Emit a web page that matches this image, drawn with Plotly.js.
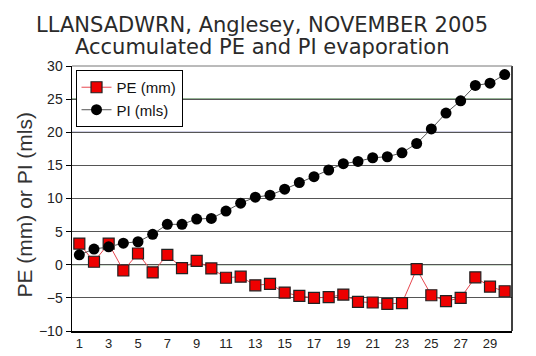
<!DOCTYPE html>
<html><head><meta charset="utf-8">
<script src="https://cdn.plot.ly/plotly-3.0.1.min.js"></script>
<style>html,body{margin:0;padding:0;background:#fff}#chart{width:536px;height:356px}</style>
</head><body><div id="chart"></div>
<script>
const days = [1,2,3,4,5,6,7,8,9,10,11,12,13,14,15,16,17,18,19,20,21,22,23,24,25,26,27,28,29,30];
const peValues = [3.2,0.45,3.2,-0.87,1.7,-1.16,1.5,-0.5,0.6,-0.56,-1.96,-1.8,-3.1,-2.9,-4.2,-4.7,-5.0,-4.9,-4.5,-5.6,-5.7,-5.9,-5.8,-0.66,-4.6,-5.5,-5.0,-1.9,-3.3,-4.0];
const piValues = [1.5,2.36,2.7,3.26,3.47,4.6,6.1,6.1,6.9,7.0,8.1,9.3,10.2,10.5,11.4,12.4,13.3,14.3,15.25,15.6,16.15,16.3,16.9,18.3,20.5,22.9,24.75,27.06,27.4,28.7];
const xTicks = [1,3,5,7,9,11,13,15,17,19,21,23,25,27,29];
const yTicks = [-10,-5,0,5,10,15,20,25,30];
const seriesNames = ['PE (mm)','PI (mls)'];
const titleLines = ['LLANSADWRN, Anglesey, NOVEMBER 2005','Accumulated PE and PI evaporation'];
const yTitle = 'PE (mm) or PI (mls)';

const traces = [
  {x: days, y: peValues, name: seriesNames[0], type: 'scatter', mode: 'lines+markers',
   line: {color: '#e8474f', width: 1},
   marker: {symbol: 'square', size: 11, color: '#ee0000', line: {color: '#222', width: 1.2}}},
  {x: days, y: piValues, name: seriesNames[1], type: 'scatter', mode: 'lines+markers',
   line: {color: '#555', width: 1},
   marker: {symbol: 'circle', size: 11, color: '#000', line: {color: '#000', width: 0}}}
];
const gl = (y, c) => ({type: 'line', xref: 'paper', x0: 0, x1: 1, yref: 'y', y0: y, y1: y, line: {color: c, width: 1.2}, layer: 'below'});
const titleFont = {family: 'DejaVu Sans', size: 21, color: '#2a2a2a'};
const layout = {
  width: 536, height: 356,
  margin: {l: 72, r: 24, t: 66, b: 25},
  paper_bgcolor: '#fff', plot_bgcolor: '#fff',
  xaxis: {range: [0.5, 30.5], tickvals: xTicks, showgrid: false, zeroline: false,
          showline: true, linecolor: '#000', linewidth: 1.5, mirror: false, ticks: '',
          tickfont: {family: 'Liberation Sans', size: 13, color: '#222'}},
  yaxis: {range: [-10, 30], tickvals: yTicks, showgrid: true, gridcolor: '#555', gridwidth: 1.2,
          zeroline: false, showline: true, linecolor: '#000', linewidth: 1.5, ticks: 'outside',
          ticklen: 5, tickcolor: '#000', tickfont: {family: 'Liberation Sans', size: 14, color: '#222'}},
  annotations: [
    {text: titleLines[0], xref: 'paper', yref: 'paper', x: 0.432, y: 1.153, xanchor: 'center', yanchor: 'middle', showarrow: false, font: titleFont},
    {text: titleLines[1], xref: 'paper', yref: 'paper', x: 0.432, y: 1.073, xanchor: 'center', yanchor: 'middle', showarrow: false, font: titleFont},
    {text: yTitle, xref: 'paper', yref: 'paper', x: -0.107, y: 0.477, xanchor: 'center', yanchor: 'middle', textangle: -90, showarrow: false,
     font: {family: 'Liberation Sans', size: 21, color: '#333'}}
  ],
  shapes: [gl(25, '#2f6a2f'), gl(20, '#3c3c90'), gl(0, '#3a7a3a'),
           {type: 'line', xref: 'paper', yref: 'paper', x0: 1, x1: 1, y0: 0, y1: 1, line: {color: '#000', width: 1.5}},
           {type: 'line', xref: 'paper', yref: 'paper', x0: 0, x1: 1, y0: 1, y1: 1, line: {color: '#777', width: 1}}],
  legend: {x: 0.008, y: 0.985, xanchor: 'left', yanchor: 'top', bgcolor: '#fff', bordercolor: '#000', borderwidth: 1,
           font: {family: 'Liberation Sans', size: 15, color: '#111'}, itemwidth: 30},
  showlegend: true
};
Plotly.newPlot('chart', traces, layout, {displayModeBar: false, staticPlot: true});
</script></body></html>
